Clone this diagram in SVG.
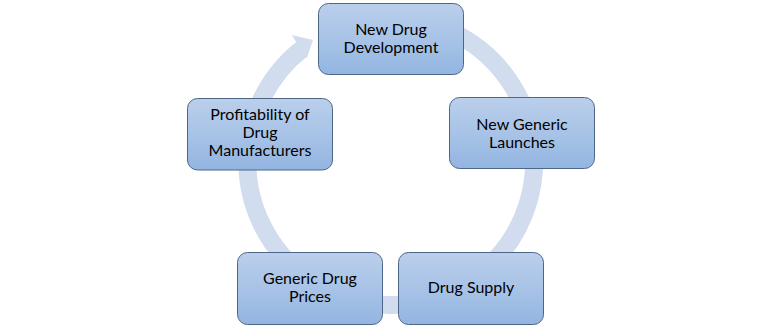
<svg xmlns="http://www.w3.org/2000/svg" width="781" height="327" viewBox="0 0 781 327">
<defs>
<linearGradient id="boxFill" x1="0" y1="0" x2="0" y2="1">
<stop offset="0" stop-color="#BACFEB"/>
<stop offset="0.5" stop-color="#A8C3E7"/>
<stop offset="1" stop-color="#93B5E1"/>
</linearGradient>
<style>
.box{fill:url(#boxFill);stroke:#4D6687;stroke-width:1}
.lbl{font-family:Lato,"Liberation Sans",sans-serif;font-size:16px;fill:#000;text-anchor:middle}
.ring{fill:none;stroke:#D1DCEE;stroke-width:18}
.head{fill:#D1DCEE}
</style>
</defs>
<rect width="781" height="327" fill="#fff"/>
<g id="connectors">
<path class="ring" d="M 390.7 18.2 A 143.4 143.4 0 1 1 302.4 48.6"/>
<polygon class="head" points="291.7,35 313,40 306.7,58.3"/>
</g>
<g id="node-new-drug-development">
<rect class="box" x="318.5" y="3.5" width="145" height="71" rx="10"/>
<text class="lbl" x="391" y="35">New Drug</text>
<text class="lbl" x="391" y="52.5">Development</text>
</g>
<g id="node-new-generic-launches">
<rect class="box" x="449.5" y="97.5" width="145" height="71" rx="10"/>
<text class="lbl" x="522" y="130">New Generic</text>
<text class="lbl" x="522" y="148">Launches</text>
</g>
<g id="node-drug-supply">
<rect class="box" x="398.5" y="252.5" width="145" height="72" rx="10"/>
<text class="lbl" x="471" y="293">Drug Supply</text>
</g>
<g id="node-generic-drug-prices">
<rect class="box" x="237.5" y="252.5" width="145" height="72" rx="10"/>
<text class="lbl" x="310" y="284">Generic Drug</text>
<text class="lbl" x="310" y="302">Prices</text>
</g>
<g id="node-profitability">
<rect class="box" x="187.5" y="98.5" width="145" height="71.5" rx="10"/>
<text class="lbl" x="260" y="120">Profitability of</text>
<text class="lbl" x="260" y="138">Drug</text>
<text class="lbl" x="260" y="156">Manufacturers</text>
</g>
</svg>
